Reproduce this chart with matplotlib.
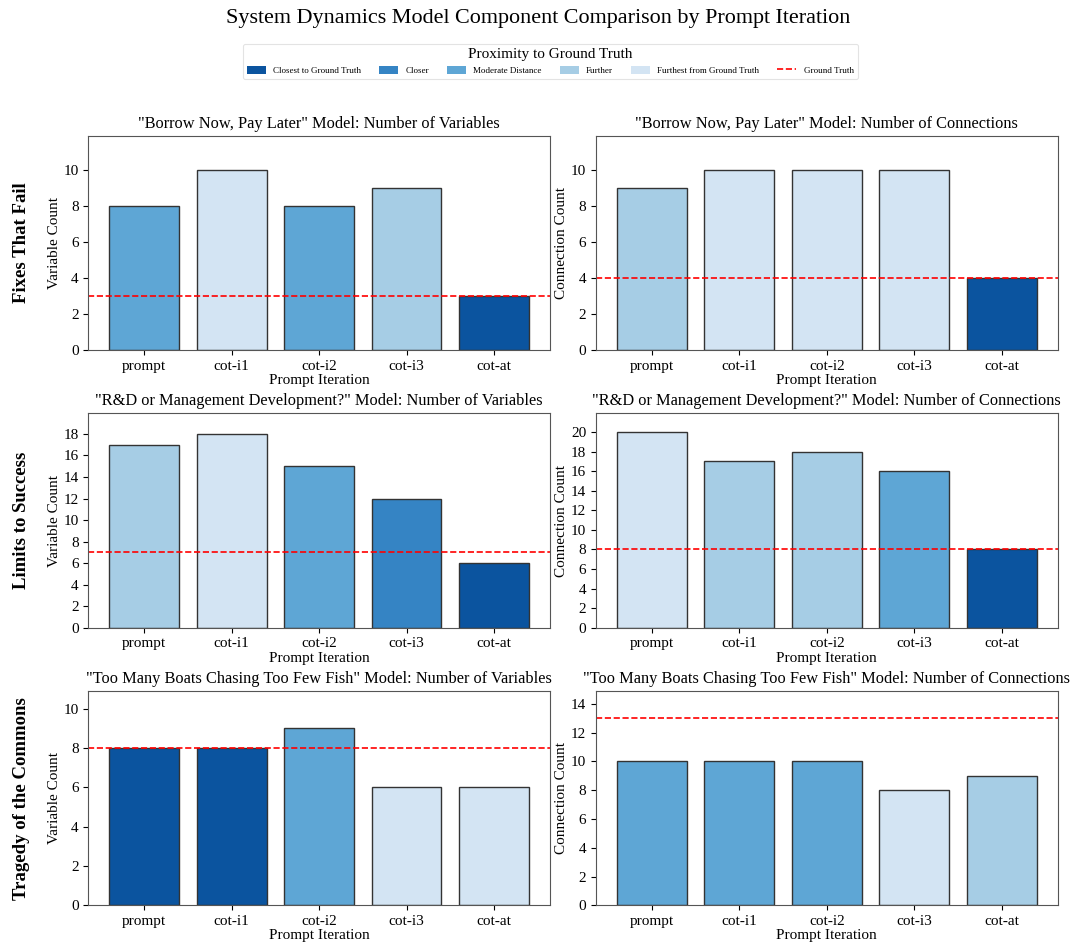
import matplotlib
matplotlib.use("Agg")
import matplotlib.pyplot as plt
from matplotlib.patches import Patch
from matplotlib.lines import Line2D
from matplotlib.ticker import MultipleLocator

plt.rcParams['font.family'] = ['Liberation Serif', 'DejaVu Serif']

iterations = ["prompt", "cot-i1", "cot-i2", "cot-i3", "cot-at"]

archetypes = ["Fixes That Fail", "Limits to Success", "Tragedy of the Commons"]
model_names = ["Borrow Now, Pay Later",
               "R&D or Management Development?",
               "Too Many Boats Chasing Too Few Fish"]

# variable counts per prompt iteration
fixes_vars = [8, 10, 8, 9, 3]
limits_vars = [17, 18, 15, 12, 6]
tragedy_vars = [8, 8, 9, 6, 6]

# connection counts per prompt iteration
fixes_conns = [9, 10, 10, 10, 4]
limits_conns = [20, 17, 18, 16, 8]
tragedy_conns = [10, 10, 10, 8, 9]

# ground-truth reference counts (variables, connections)
gt_vars = [3, 7, 8]
gt_conns = [4, 8, 13]

# proximity level of each bar (0 = closest ... 4 = furthest)
fixes_vars_lvl = [2, 4, 2, 3, 0]
fixes_conns_lvl = [3, 4, 4, 4, 0]
limits_vars_lvl = [3, 4, 2, 1, 0]
limits_conns_lvl = [4, 3, 3, 2, 0]
tragedy_vars_lvl = [0, 0, 2, 4, 4]
tragedy_conns_lvl = [2, 2, 2, 4, 3]

level_names = ["Closest to Ground Truth", "Closer", "Moderate Distance",
               "Further", "Furthest from Ground Truth"]
level_colors = ["#0b549f", "#3584c4", "#5ea6d5", "#a6cde5", "#d3e4f3"]

var_data = [fixes_vars, limits_vars, tragedy_vars]
conn_data = [fixes_conns, limits_conns, tragedy_conns]
var_lvls = [fixes_vars_lvl, limits_vars_lvl, tragedy_vars_lvl]
conn_lvls = [fixes_conns_lvl, limits_conns_lvl, tragedy_conns_lvl]

fig, axes = plt.subplots(3, 2, figsize=(10.77, 9.44), dpi=100)
fig.subplots_adjust(left=0.082, right=0.982, top=0.856, bottom=0.041,
                    wspace=0.10, hspace=0.295)


def draw_panel(ax, values, levels, gt, title, ylabel):
    colors = [level_colors[l] for l in levels]
    ax.bar(iterations, values, color=colors, edgecolor="#333333",
           linewidth=1.0, width=0.8)
    ax.axhline(gt, color="red", linestyle="--", linewidth=1.2)
    ax.set_ylim(0, max(max(values), gt) + 1.9)
    ax.yaxis.set_major_locator(MultipleLocator(2))
    ax.set_title(title, fontsize=11.8, pad=6)
    ax.set_xlabel("Prompt Iteration", fontsize=11, labelpad=1)
    ax.set_ylabel(ylabel, fontsize=11, labelpad=2)
    ax.tick_params(labelsize=11)
    for s in ax.spines.values():
        s.set_color("#555555")


for r in range(3):
    draw_panel(axes[r, 0], var_data[r], var_lvls[r], gt_vars[r],
               f'"{model_names[r]}" Model: Number of Variables',
               "Variable Count")
    draw_panel(axes[r, 1], conn_data[r], conn_lvls[r], gt_conns[r],
               f'"{model_names[r]}" Model: Number of Connections',
               "Connection Count")
    pos = axes[r, 0].get_position()
    fig.text(0.02, (pos.y0 + pos.y1) / 2, archetypes[r], rotation=90,
             ha="center", va="center", fontsize=13.5, fontweight="bold")

fig.suptitle("System Dynamics Model Component Comparison by Prompt Iteration",
             fontsize=15.9, y=0.99)

handles = [Patch(facecolor=c, edgecolor="none", label=n)
           for c, n in zip(level_colors, level_names)]
handles.append(Line2D([0], [0], color="red", linestyle="--", linewidth=1.2,
                      label="Ground Truth"))
leg = fig.legend(handles=handles, loc="upper center",
                 bbox_to_anchor=(0.511, 0.958), ncol=6, fontsize=6.5,
                 title="Proximity to Ground Truth", title_fontsize=11,
                 frameon=True, handlelength=2.1, handleheight=1.0,
                 columnspacing=2.0, handletextpad=0.8, borderpad=0.45)
leg.get_frame().set_edgecolor("#dddddd")
leg.get_frame().set_linewidth(0.8)

fig.savefig("out.png", dpi=100)
